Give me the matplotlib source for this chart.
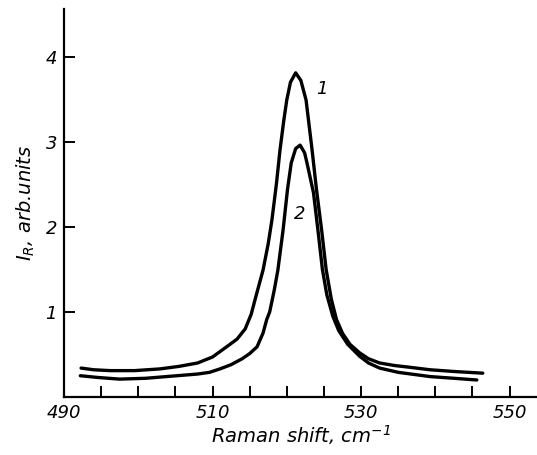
import matplotlib
matplotlib.use("Agg")
import matplotlib.pyplot as plt
from matplotlib.ticker import MultipleLocator

# ── data ─────────────────────────────────────────────────────────────────
shift_1 = [492.3, 494.0, 496.2, 499.5, 502.9, 505.5, 508.0, 510.0, 511.9,
           513.3, 514.4, 515.2, 515.9, 516.8, 517.5, 518.0, 518.6, 519.1,
           519.6, 520.0, 520.5, 521.2, 521.9, 522.6, 523.0, 523.4, 524.0,
           524.7, 525.3, 526.0, 526.7, 527.5, 528.5, 529.8, 531.0, 532.5,
           534.5, 536.5, 539.3, 542.5, 546.4]
int_1 = [0.34, 0.32, 0.31, 0.31, 0.33, 0.36, 0.40, 0.47, 0.59,
         0.68, 0.80, 0.97, 1.20, 1.49, 1.80, 2.08, 2.50, 2.91,
         3.25, 3.49, 3.70, 3.81, 3.72, 3.49, 3.20, 2.91, 2.44,
         1.96, 1.50, 1.15, 0.91, 0.75, 0.62, 0.52, 0.45, 0.40,
         0.37, 0.35, 0.32, 0.30, 0.28]

shift_2 = [492.2, 494.5, 497.5, 501.0, 505.2, 508.0, 509.6, 511.0, 512.5,
           514.0, 515.0, 516.0, 516.8, 517.3, 517.7, 518.3, 518.8, 519.5,
           520.1, 520.6, 521.2, 521.8, 522.4, 522.7, 523.1, 523.6, 524.2,
           524.8, 525.4, 526.2, 527.0, 528.2, 529.8, 531.0, 532.5, 535.0,
           539.3, 542.5, 545.6]
int_2 = [0.25, 0.23, 0.21, 0.22, 0.25, 0.27, 0.29, 0.33, 0.38,
         0.45, 0.51, 0.59, 0.75, 0.91, 1.00, 1.25, 1.49, 1.96,
         2.44, 2.75, 2.92, 2.96, 2.87, 2.76, 2.60, 2.40, 1.96,
         1.50, 1.20, 0.95, 0.78, 0.62, 0.48, 0.40, 0.34, 0.29,
         0.24, 0.22, 0.20]

curve_labels = ["1", "2"]
label_pos = [(524.7, 3.62), (521.7, 2.15)]

x_ticks = [490, 510, 530, 550]
y_ticks = [1, 2, 3, 4]

# ── figure ───────────────────────────────────────────────────────────────
plt.rcParams["font.family"] = "DejaVu Sans"
plt.rcParams["font.style"] = "italic"

fig = plt.figure(figsize=(5.37, 4.55), dpi=100)
ax = fig.add_axes([64 / 537, 58 / 455, (537 - 64) / 537, (397 - 9) / 455])

ax.plot(shift_1, int_1, color="black", lw=2.4, solid_capstyle="round",
        solid_joinstyle="round")
ax.plot(shift_2, int_2, color="black", lw=2.4, solid_capstyle="round",
        solid_joinstyle="round")

for lab, (lx, ly) in zip(curve_labels, label_pos):
    ax.text(lx, ly, lab, fontsize=13, ha="center", va="center")

ax.set_xlim(490, 553.7)
ax.set_ylim(0, 4.56)
ax.set_xticks(x_ticks)
ax.xaxis.set_minor_locator(MultipleLocator(5))
ax.set_yticks(y_ticks)

for side in ("top", "right"):
    ax.spines[side].set_visible(False)
for side in ("left", "bottom"):
    ax.spines[side].set_linewidth(1.6)

ax.tick_params(which="both", direction="in", length=8, width=1.4,
               labelsize=13, pad=5)

ax.set_xlabel("Raman shift, cm$^{-1}$", fontsize=14, labelpad=1)
ax.set_ylabel("$I_R$, arb.units", fontsize=14, labelpad=6)

fig.savefig("out.png", dpi=100)
